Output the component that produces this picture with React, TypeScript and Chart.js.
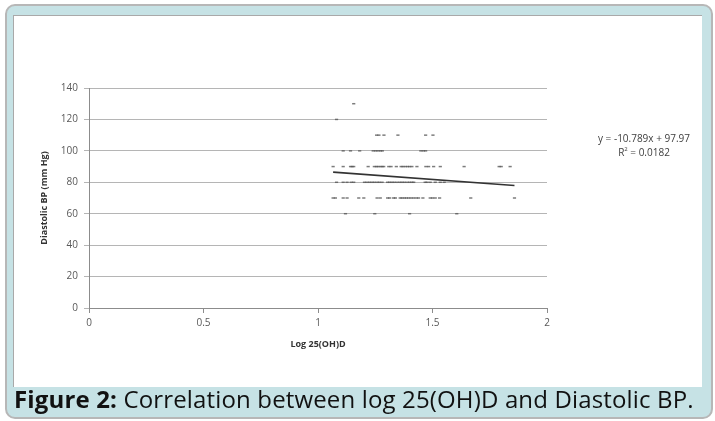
import React, { useEffect, useRef } from "react";
import { Chart, registerables } from "chart.js";

Chart.register(...registerables);

// Log 25(OH)D values observed at each diastolic BP level (mm Hg)
const x130 = [1.156];
const x120 = [1.081];
const x110 = [1.256, 1.266, 1.288, 1.349, 1.47, 1.502];
const x100 = [1.11, 1.142, 1.182, 1.241, 1.252, 1.262, 1.273, 1.281, 1.449, 1.46, 1.47];
const x90 = [
  1.066, 1.11, 1.142, 1.149, 1.156, 1.219, 1.246, 1.255, 1.262, 1.272, 1.28, 1.287, 1.309, 1.319,
  1.342, 1.363, 1.371, 1.381, 1.391, 1.4, 1.41, 1.432, 1.471, 1.483, 1.505, 1.534, 1.638, 1.791,
  1.8, 1.839,
];
const x80 = [
  1.081, 1.11, 1.127, 1.145, 1.156, 1.203, 1.214, 1.225, 1.236, 1.246, 1.258, 1.268, 1.28, 1.304,
  1.313, 1.323, 1.333, 1.345, 1.357, 1.367, 1.377, 1.389, 1.4, 1.41, 1.418, 1.468, 1.476, 1.49,
  1.512, 1.534, 1.551,
];
const x70 = [
  1.066, 1.076, 1.11, 1.127, 1.178, 1.2, 1.258, 1.272, 1.304, 1.313, 1.33, 1.338, 1.359, 1.367,
  1.377, 1.386, 1.396, 1.406, 1.417, 1.429, 1.439, 1.458, 1.49, 1.5, 1.512, 1.531, 1.667, 1.858,
];
const x60 = [1.12, 1.248, 1.4, 1.606];

const bpLevels = [130, 120, 110, 100, 90, 80, 70, 60];
const xByLevel = [x130, x120, x110, x100, x90, x80, x70, x60];

// Linear trend line shown in the figure: y = -10.789x + 97.97, R² = 0.0182
const trendSlope = -10.789;
const trendIntercept = 97.97;
const trendRange = [1.066, 1.858];

const xTicks = [0, 0.5, 1, 1.5, 2];
const yTicks = [0, 20, 40, 60, 80, 100, 120, 140];

export default function App() {
  const canvasRef = useRef<HTMLCanvasElement | null>(null);

  useEffect(() => {
    document.body.style.margin = "0";
    const canvas = canvasRef.current;
    if (!canvas) return;

    const points: { x: number; y: number }[] = [];
    bpLevels.forEach((bp, i) => {
      xByLevel[i].forEach((x) => points.push({ x, y: bp }));
    });
    const trend = trendRange.map((x) => ({ x, y: trendSlope * x + trendIntercept }));

    const tickFont = { family: "'Open Sans', sans-serif", size: 10 };
    const titleFont = { family: "'Open Sans', sans-serif", size: 9, weight: "bold" as const };

    const chart = new Chart(canvas, {
      type: "scatter",
      data: {
        datasets: [
          {
            label: "Diastolic BP",
            data: points,
            pointStyle: "line",
            pointRadius: 1.6,
            pointBorderWidth: 1.5,
            borderColor: "rgba(80,80,80,0.75)",
            backgroundColor: "rgba(80,80,80,0.75)",
            pointHoverRadius: 1.6,
          },
          {
            type: "line",
            label: "Linear",
            data: trend,
            borderColor: "#333333",
            borderWidth: 1.6,
            pointRadius: 0,
            fill: false,
          },
        ],
      },
      options: {
        animation: false,
        responsive: false,
        maintainAspectRatio: false,
        layout: { padding: { left: 0, right: 153, top: 72, bottom: 0 } },
        plugins: {
          legend: { display: false },
          tooltip: { enabled: false },
        },
        scales: {
          x: {
            type: "linear",
            min: 0,
            max: 2,
            afterFit: (s: any) => {
              s.height = 79;
            },
            afterBuildTicks: (s: any) => {
              s.ticks = xTicks.map((v) => ({ value: v }));
            },
            ticks: {
              font: tickFont,
              color: "#595959",
              padding: 4,
              maxRotation: 0,
              callback: (v: any) => String(v),
            },
            grid: {
              drawOnChartArea: false,
              drawTicks: true,
              tickLength: 5,
              color: "#8c8c8c",
            },
            border: { color: "#8c8c8c", width: 1 },
            title: {
              display: true,
              text: "Log 25(OH)D",
              font: titleFont,
              color: "#333333",
              padding: { top: 0, bottom: 37 },
            },
          },
          y: {
            type: "linear",
            min: 0,
            max: 140,
            afterFit: (s: any) => {
              s.width = 75;
            },
            afterBuildTicks: (s: any) => {
              s.ticks = yTicks.map((v) => ({ value: v }));
            },
            ticks: {
              font: tickFont,
              color: "#595959",
              padding: 6,
              callback: (v: any) => String(v),
            },
            grid: {
              drawTicks: true,
              tickLength: 5,
              color: "#b5b5b5",
              lineWidth: 1,
            },
            border: { color: "#8c8c8c", width: 1 },
            title: {
              display: true,
              text: "Diastolic BP (mm Hg)",
              font: titleFont,
              color: "#333333",
              padding: { top: 25, bottom: 0 },
            },
          },
        },
      },
    });
    return () => chart.destroy();
  }, []);

  return (
    <div style={{ position: "relative", width: 715, height: 421, overflow: "hidden", background: "#ffffff" }}>
      <div
        style={{
          position: "absolute",
          left: 5,
          top: 4,
          width: 704,
          height: 411,
          border: "2px solid #b7b7b7",
          borderRadius: 10,
          background: "#c6e2e5",
        }}
      />
      <div
        style={{
          position: "absolute",
          left: 13,
          top: 15,
          width: 689,
          height: 372,
          background: "#ffffff",
          borderTop: "1px solid #a9a9a9",
          borderLeft: "1px solid #a9a9a9",
          boxSizing: "border-box",
        }}
      >
        <canvas ref={canvasRef} width={686} height={371} style={{ display: "block", width: 686, height: 371 }} />
        <div
          style={{
            position: "absolute",
            left: 560,
            top: 115,
            width: 140,
            textAlign: "center",
            fontFamily: "'Open Sans', sans-serif",
            fontSize: 10,
            lineHeight: "14px",
            color: "#404040",
          }}
        >
          <div>y = -10.789x + 97.97</div>
          <div>
            R<sup style={{ fontSize: 6, verticalAlign: "top", lineHeight: "8px" }}>2</sup> = 0.0182
          </div>
        </div>
      </div>
      <div
        style={{
          position: "absolute",
          left: 14,
          top: 387,
          fontFamily: "'Open Sans', sans-serif",
          fontSize: 24,
          lineHeight: "24px",
          color: "#111111",
          whiteSpace: "nowrap",
          letterSpacing: 0.15,
        }}
      >
        <b>Figure 2:</b> Correlation between log 25(OH)D and Diastolic BP.
      </div>
    </div>
  );
}
